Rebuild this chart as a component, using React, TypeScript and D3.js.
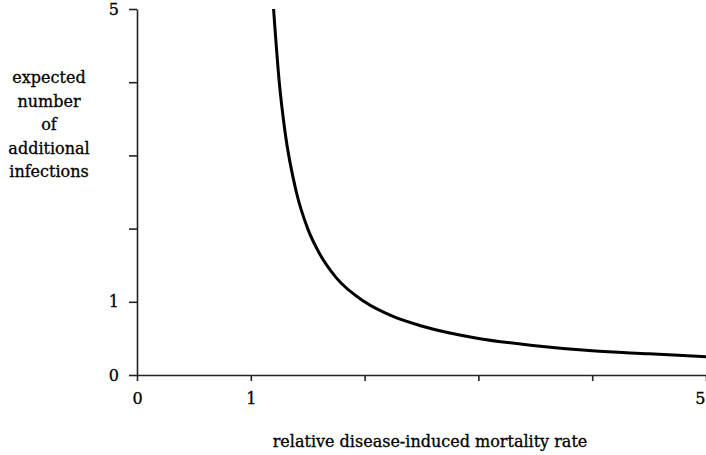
import * as React from 'react';
import * as d3 from 'd3';

// values
const mortality = [1.2, 1.25, 1.3, 1.4, 1.5, 1.6, 1.75, 2, 2.25, 2.5, 3, 3.5, 4, 4.5, 5];
const infections = [5, 4, 3.33, 2.5, 2, 1.67, 1.33, 1, 0.8, 0.67, 0.5, 0.4, 0.33, 0.29, 0.25];
const xTicks = [0, 1, 2, 3, 4, 5];
const yTicks = [0, 1, 2, 3, 4, 5];
const labelledTicks = [0, 1, 5];
const yTitle = ['expected', 'number', 'of', 'additional', 'infections'];
const xTitle = 'relative disease-induced mortality rate';

const font = "'DejaVu Serif', 'Liberation Serif', serif";

export default function App() {
  const xAxisRef = React.useRef() as React.MutableRefObject<any>;
  const yAxisRef = React.useRef() as React.MutableRefObject<any>;

  const width = 706;
  const height = 455;
  const margin = { top: 9, right: 0, bottom: 80, left: 137 };

  const x = d3.scaleLinear().domain([0, 5]).range([margin.left, width - margin.right]);
  const y = d3.scaleLinear().domain([0, 5]).range([height - margin.bottom, margin.top]);

  const fmt = (d: any) => (labelledTicks.includes(d) ? String(d) : '');

  React.useEffect(() => {
    const xa = d3.select(xAxisRef.current)
      .call(d3.axisBottom(x).tickValues(xTicks).tickFormat(fmt).tickSize(6).tickSizeOuter(0).tickPadding(12));
    const ya = d3.select(yAxisRef.current)
      .call(d3.axisLeft(y).tickValues(yTicks).tickFormat(fmt).tickSize(8).tickSizeOuter(0).tickPadding(10));

    for (const a of [xa, ya]) {
      a.attr('font-family', null).attr('font-size', null);
      a.select('.domain').attr('stroke', '#222').attr('stroke-width', 1.6);
      a.selectAll('.tick line').attr('stroke', '#222').attr('stroke-width', 1.6);
      a.selectAll('.tick text')
        .attr('fill', '#000')
        .attr('stroke', '#000')
        .attr('stroke-width', 0.3)
        .attr('font-family', font)
        .attr('font-size', 16);
    }
    // last x label sits on the right edge of the figure
    xa.selectAll('.tick text').filter((d: any) => d === 5).attr('text-anchor', 'end').attr('dx', -1);
  }, []);

  const points = mortality.map((m, i) => [m, infections[i]] as [number, number]);
  const line = d3.line<[number, number]>()
    .x((d) => x(d[0]))
    .y((d) => y(d[1]))
    .curve(d3.curveMonotoneX);

  return (
    <svg width={width} height={height}
         style={{ position: 'absolute', left: 0, top: 0, background: '#fff' }}>
      <g ref={xAxisRef} transform={`translate(0, ${y(0)})`} />
      <g ref={yAxisRef} transform={`translate(${x(0)}, 0)`} />
      <path d={line(points) || ''} fill="none" stroke="#000" strokeWidth={3} />
      <g fontFamily={font} fill="#000" stroke="#000" strokeWidth={0.3} textAnchor="middle">
        {yTitle.map((t, i) => (
          <text key={t} x={49} y={83 + i * 23.5} fontSize={16}>{t}</text>
        ))}
        <text x={430} y={447} fontSize={16}>{xTitle}</text>
      </g>
    </svg>
  );
}
